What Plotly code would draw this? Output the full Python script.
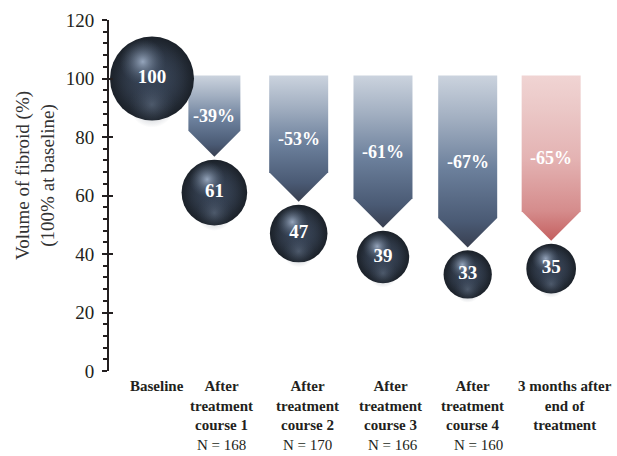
import numpy as np
import plotly.graph_objects as go

# ---- data -------------------------------------------------------------
stages = ["Baseline", "After<br>treatment<br>course 1", "After<br>treatment<br>course 2",
          "After<br>treatment<br>course 3", "After<br>treatment<br>course 4",
          "3 months after<br>end of<br>treatment"]
volume = [100, 61, 47, 39, 33, 35]            # % of baseline volume
n_patients = ["", "N = 168", "N = 170", "N = 166", "N = 160", ""]

# ---- layout helpers ---------------------------------------------------
W, H = 617, 456
M_L, M_R, M_T, M_B = 109, 10, 20, 85
PLOT_W = W - M_L - M_R
PLOT_H = H - M_T - M_B
Y_MAX = 120
PX_PER_Y = PLOT_H / Y_MAX
PX_PER_X = 84.3
X0 = -(152 - M_L) / PX_PER_X
X1 = X0 + PLOT_W / PX_PER_X

x_pos = [0, 0.74, 1.74, 2.74, 3.745, 4.735]          # sphere / arrow centres
label_x = [0.06, 0.83, 1.84, 2.835, 3.80, 4.90]       # category label centres
n_x = [None, 0.83, 1.845, 2.86, 3.87, None]
arrow_w_px = [None, 52, 59, 59, 59, 59]
ARROW_TOP = 101
GAP = 1.0

SERIF = "Liberation Serif, Times New Roman, serif"
INK = "#231f20"

# sphere area proportional to volume; the 100 % sphere is 84 px across
MAX_D = 84
diam = [MAX_D * np.sqrt(v / max(volume)) for v in volume]
rad_y = [d / 2 / PX_PER_Y for d in diam]

fig = go.Figure()

blue_scale = [[0, "#383f50"], [0.15, "#4a5a74"], [0.45, "#6b7f9b"], [0.75, "#a2afc1"], [1, "#cbd3de"]]
red_scale = [[0, "#c45f5f"], [0.18, "#d58c8c"], [0.5, "#e4b3b3"], [0.8, "#ebc8c7"], [1, "#f0d4d3"]]

# ---- downward arrows from baseline to each follow-up sphere -----------
for i in range(1, len(volume)):
    half = arrow_w_px[i] / 2 / PX_PER_X
    point_h = arrow_w_px[i] / 2 / PX_PER_Y
    tip = volume[i] + rad_y[i] + GAP
    shoulder = tip + point_h
    cx = x_pos[i]
    xs = [cx - half, cx + half, cx + half, cx, cx - half, cx - half]
    ys = [ARROW_TOP, ARROW_TOP, shoulder, tip, shoulder, ARROW_TOP]
    fig.add_trace(go.Scatter(
        x=xs, y=ys, mode="lines", fill="toself",
        line=dict(width=0, color="rgba(0,0,0,0)"),
        fillgradient=dict(type="vertical",
                          colorscale=red_scale if i == len(volume) - 1 else blue_scale),
        hoverinfo="skip", showlegend=False))
    pct = volume[i] - volume[0]
    fig.add_annotation(x=cx, y=(ARROW_TOP + tip) / 2, text=f"<b>{pct}%</b>", showarrow=False,
                       font=dict(family=SERIF, size=18, color="#ffffff"))

# ---- spheres ----------------------------------------------------------
fig.add_trace(go.Scatter(
    x=x_pos, y=volume, mode="markers",
    marker=dict(size=diam, opacity=1, color="#1b2129",
                gradient=dict(type="radial", color="#4a586e"), line=dict(width=0)),
    hoverinfo="skip", showlegend=False))

# body tone
fig.add_trace(go.Scatter(
    x=x_pos, y=volume, mode="markers",
    marker=dict(size=[d * 0.86 for d in diam], opacity=1, color="rgba(45,56,73,0)",
                gradient=dict(type="radial", color="rgba(48,60,78,0.8)"), line=dict(width=0)),
    hoverinfo="skip", showlegend=False))

# soft lower reflection
fig.add_trace(go.Scatter(
    x=x_pos, y=[v - 0.62 * r for v, r in zip(volume, rad_y)], mode="markers",
    marker=dict(size=[d * 0.55 for d in diam], opacity=1, color="rgba(60,72,90,0)",
                gradient=dict(type="radial", color="rgba(110,125,146,0.5)"), line=dict(width=0)),
    hoverinfo="skip", showlegend=False))

# specular highlight, up and slightly left
fig.add_trace(go.Scatter(
    x=[x - 0.22 * d / 2 / PX_PER_X for x, d in zip(x_pos, diam)],
    y=[v + 0.4 * r for v, r in zip(volume, rad_y)], mode="markers",
    marker=dict(size=[d * 0.55 for d in diam], opacity=1, color="rgba(75,90,110,0)",
                gradient=dict(type="radial", color="rgba(155,171,194,0.95)"), line=dict(width=0)),
    hoverinfo="skip", showlegend=False))

# values in the spheres
fig.add_trace(go.Scatter(
    x=x_pos, y=volume, mode="text", text=[f"<b>{v}</b>" for v in volume],
    textposition="middle center",
    textfont=dict(family=SERIF, size=19, color="#ffffff"),
    hoverinfo="skip", showlegend=False))

# invisible trace to carry the inside tick marks
fig.add_trace(go.Scatter(x=[X0], y=[0], yaxis="y2", mode="markers",
                         marker=dict(opacity=0), hoverinfo="skip", showlegend=False))

# ---- category labels --------------------------------------------------
for lx, s in zip(label_x, stages):
    fig.add_annotation(x=lx, y=0, xref="x", yref="paper", yanchor="top", yshift=-5,
                       text=f"<b>{s}</b>", showarrow=False, align="center",
                       font=dict(family=SERIF, size=15, color=INK))
for nx, nt in zip(n_x, n_patients):
    if nt:
        fig.add_annotation(x=nx, y=0, xref="x", yref="paper", yanchor="middle",
                           yshift=-(445 - (M_T + PLOT_H)), text=nt, showarrow=False,
                           font=dict(family=SERIF, size=15, color=INK))

# y-axis title
fig.add_annotation(x=0, y=(M_T + PLOT_H - 176) / PLOT_H, xref="paper", yref="paper",
                   xanchor="center", yanchor="middle",
                   xshift=35 - M_L, text="Volume of fibroid (%)<br>(100% at baseline)",
                   textangle=-90, showarrow=False, align="center",
                   font=dict(family=SERIF, size=19, color="#333333"))

fig.update_layout(
    width=W, height=H,
    margin=dict(l=M_L, r=M_R, t=M_T, b=M_B),
    paper_bgcolor="#ffffff", plot_bgcolor="#ffffff",
    xaxis=dict(range=[X0, X1], visible=False, fixedrange=True),
    yaxis=dict(range=[0, Y_MAX], dtick=20, showgrid=False, zeroline=False,
               showline=True, linecolor=INK, linewidth=2,
               ticks="outside", ticklen=5, tickwidth=2, tickcolor=INK,
               ticklabelstandoff=4,
               minor=dict(dtick=4, ticks="outside", ticklen=4, tickwidth=1.5, tickcolor=INK),
               tickfont=dict(family=SERIF, size=19, color=INK)),
    yaxis2=dict(range=[0, Y_MAX], dtick=20, overlaying="y", side="left", anchor="x",
                showgrid=False, zeroline=False, showline=False, showticklabels=False,
                ticks="inside", ticklen=4, tickwidth=2, tickcolor=INK),
)

fig.write_html("out.html")
